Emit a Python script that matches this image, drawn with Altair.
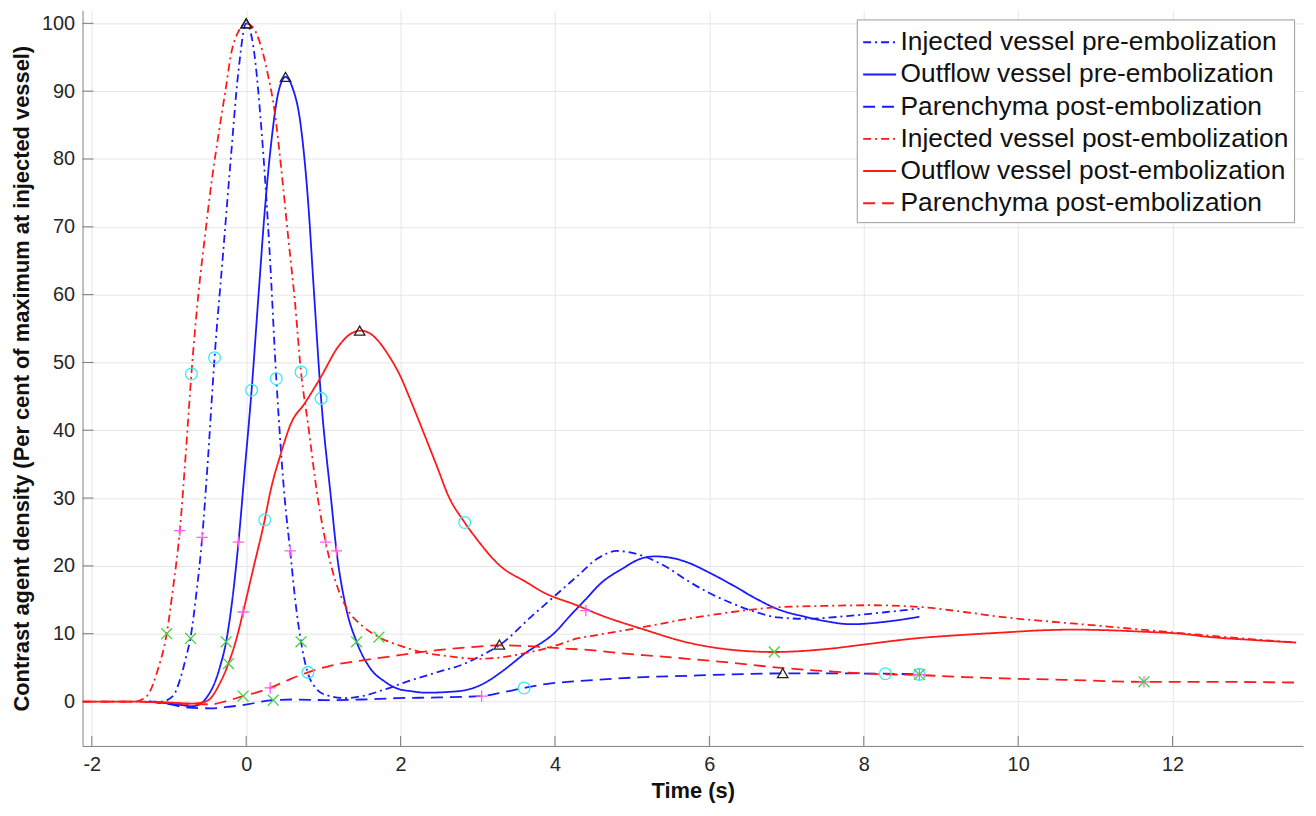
import altair as alt
import pandas as pd

# ---------------- data ----------------
keys = ["inj_pre", "out_pre", "par_pre", "inj_post", "out_post", "par_post"]
labels = ["Injected vessel pre-embolization", "Outflow vessel pre-embolization",
          "Parenchyma post-embolization", "Injected vessel post-embolization",
          "Outflow vessel post-embolization", "Parenchyma post-embolization"]
colors = ["#1a1aff", "#1a1aff", "#1a1aff", "#ff1a1a", "#ff1a1a", "#ff1a1a"]
dashes = [[8, 4, 2, 4], [1, 0], [12, 7], [8, 4, 2, 4], [1, 0], [12, 7]]

inj_pre_t = [-1.26, -1.1, -0.95, -0.85, -0.78, -0.72, -0.65, -0.57, -0.5, -0.41, -0.3, -0.2, -0.1, 0.0,
             0.1, 0.2, 0.3, 0.39, 0.5, 0.57, 0.64, 0.71, 0.79, 0.9, 1.05, 1.28, 1.5, 1.8, 2.1, 2.5, 2.79,
             3.05, 3.28, 3.71, 4.0, 4.29, 4.54, 4.8, 5.13, 5.45, 5.72, 6.0, 6.31, 6.6, 6.89, 7.25, 7.78, 8.3, 8.72]
inj_pre_v = [0.0, 0.0, 0.8, 3.5, 6.5, 9.5, 15.5, 24.2, 35.0, 50.7, 66.0, 80.0, 93.0, 100.0,
             96.0, 84.0, 67.0, 47.6, 29.8, 22.2, 14.5, 8.8, 4.5, 2.0, 0.9, 0.5, 0.8, 1.8, 3.0, 4.4, 5.4,
             6.8, 8.3, 12.7, 15.6, 18.5, 21.0, 22.2, 21.5, 19.8, 17.8, 16.0, 14.4, 13.2, 12.4, 12.2, 12.6, 13.2, 13.7]

out_pre_t = [-1.26, -1.0, -0.85, -0.71, -0.6, -0.5, -0.4, -0.33, -0.26, -0.18, -0.1, -0.02, 0.07, 0.16,
             0.24, 0.33, 0.42, 0.51, 0.6, 0.7, 0.8, 0.88, 0.97, 1.1, 1.17, 1.29, 1.43, 1.6, 1.8, 1.96,
             2.15, 2.33, 2.6, 2.85, 3.1, 3.31, 3.6, 4.0, 4.2, 4.4, 4.6, 4.86, 5.15, 5.3, 5.5, 5.72, 6.0,
             6.31, 6.6, 6.89, 7.2, 7.48, 7.84, 8.31, 8.72]
out_pre_v = [0.0, -0.3, -0.5, -0.7, -0.4, 0.8, 3.0, 5.5, 8.8, 15.0, 23.5, 34.0, 45.9, 60.0,
             72.3, 83.0, 90.0, 92.1, 90.5, 85.5, 74.0, 60.0, 44.7, 29.8, 22.2, 14.0, 8.8, 5.0, 2.9, 1.9,
             1.5, 1.3, 1.4, 1.7, 2.8, 4.4, 7.0, 10.2, 12.7, 15.1, 17.5, 19.5, 21.2, 21.4, 21.2, 20.5, 19.0,
             17.1, 15.2, 13.6, 12.6, 11.9, 11.4, 11.8, 12.5]

par_pre_t = [-1.26, -1.0, -0.75, -0.45, -0.25, 0.03, 0.2, 0.35, 0.6, 1.1, 1.5, 1.96, 2.5, 3.05, 3.3,
             3.6, 3.9, 4.29, 4.54, 5.15, 5.72, 6.3, 6.95, 7.5, 8.28, 8.72]
par_pre_v = [0.0, -0.4, -0.9, -1.0, -0.8, -0.4, 0.0, 0.2, 0.3, 0.2, 0.3, 0.5, 0.6, 0.8, 1.3,
             2.0, 2.6, 3.0, 3.2, 3.6, 3.8, 4.0, 4.15, 4.15, 4.1, 4.0]

inj_post_t = [-2.12, -1.6, -1.43, -1.35, -1.26, -1.15, -1.03, -0.95, -0.86, -0.78, -0.71, -0.62, -0.53,
              -0.45, -0.36, -0.27, -0.19, -0.1, 0.0, 0.1, 0.19, 0.28, 0.37, 0.45, 0.54, 0.63, 0.71, 0.8,
              0.93, 1.03, 1.15, 1.29, 1.5, 1.72, 2.0, 2.27, 2.6, 3.02, 3.3, 3.6, 4.0, 4.29, 4.54, 5.15,
              5.72, 6.3, 6.89, 7.5, 8.07, 8.78, 9.3, 9.84, 10.4, 11.02, 11.6, 12.19, 12.9, 13.6]
inj_post_v = [0.0, 0.0, 0.0, 0.3, 1.2, 4.5, 10.0, 16.5, 25.2, 37.0, 48.3, 60.0, 69.0,
              76.5, 83.5, 90.0, 95.8, 98.8, 100.0, 99.2, 96.7, 92.5, 86.9, 79.0, 68.9, 59.1, 48.6, 41.0,
              29.8, 23.5, 18.0, 14.0, 11.2, 9.5, 8.2, 7.3, 6.7, 6.3, 6.5, 7.1, 8.2, 9.3, 9.8, 11.0,
              12.2, 13.2, 13.9, 14.1, 14.2, 13.9, 13.2, 12.4, 11.8, 11.2, 10.6, 10.0, 9.3, 8.7]

out_post_t = [-2.12, -1.5, -1.0, -0.7, -0.55, -0.46, -0.35, -0.23, -0.12, -0.04, 0.1, 0.24, 0.31, 0.45,
              0.58, 0.76, 0.97, 1.19, 1.35, 1.48, 1.6, 1.7, 1.83, 2.0, 2.13, 2.3, 2.47, 2.62, 2.83, 2.99,
              3.29, 3.63, 3.85, 4.28, 4.6, 5.13, 5.72, 6.31, 6.84, 7.48, 8.07, 8.66, 9.25, 9.84, 10.3,
              10.72, 11.2, 11.6, 12.1, 12.49, 13.0, 13.6]
out_post_v = [0.0, 0.0, -0.15, -0.3, -0.1, 0.5, 2.5, 5.6, 9.5, 13.2, 20.0, 26.8, 30.8, 36.6,
              41.0, 44.0, 47.9, 52.3, 54.2, 54.7, 54.3, 53.3, 51.3, 47.9, 44.4, 39.6, 34.7, 30.3, 26.4, 23.9,
              20.0, 17.6, 16.1, 14.2, 12.7, 10.7, 8.7, 7.6, 7.3, 7.7, 8.5, 9.3, 9.8, 10.2, 10.5,
              10.6, 10.5, 10.3, 10.0, 9.5, 9.1, 8.7]

par_post_t = [-2.12, -1.5, -1.0, -0.7, -0.45, -0.25, -0.04, 0.15, 0.31, 0.55, 0.8, 1.1, 1.53, 1.96, 2.5,
              3.0, 3.28, 3.6, 4.0, 4.54, 4.86, 5.3, 5.72, 6.3, 6.89, 7.5, 8.07, 8.72, 9.3, 9.84, 10.6,
              11.63, 12.5, 13.6]
par_post_v = [0.0, 0.0, -0.2, -0.4, -0.4, 0.1, 0.8, 1.4, 2.0, 3.2, 4.3, 5.3, 6.1, 6.8, 7.6,
              8.1, 8.3, 8.2, 7.9, 7.5, 7.1, 6.7, 6.3, 5.7, 5.0, 4.5, 4.1, 3.9, 3.6, 3.4, 3.2,
              2.9, 2.9, 2.8]

# characteristic-point markers: time, value, kind
mark_t = [-1.03, -0.86, -0.71, 0.0, 0.71, 1.03, 1.72,
          -0.72, -0.57, -0.41, 0.0, 0.39, 0.57, 0.71,
          -0.26, -0.10, 0.07, 0.51, 0.97, 1.17, 1.43,
          -0.23, -0.04, 0.24, 1.47, 2.83, 4.40, 6.84,
          -0.04, 0.31, 0.80, 3.28, 8.28, 11.63, 11.63,
          0.35, 3.05, 3.60, 6.95, 8.72, 8.72, 8.72]
mark_v = [10.0, 25.2, 48.3, 100.0, 48.6, 23.5, 9.5,
          9.3, 24.2, 50.7, 100.0, 47.6, 22.2, 8.8,
          8.8, 23.5, 45.9, 92.1, 44.7, 22.2, 8.8,
          5.6, 13.2, 26.8, 54.7, 26.4, 13.4, 7.3,
          0.8, 2.0, 4.3, 8.4, 4.1, 2.9, 2.9,
          0.2, 0.8, 2.0, 4.2, 4.0, 4.0, 4.0]
mark_kind = ["x", "plus", "circle", "tri", "circle", "plus", "x",
             "x", "plus", "circle", "tri", "circle", "plus", "x",
             "x", "plus", "circle", "tri", "circle", "plus", "x",
             "x", "plus", "circle", "tri", "circle", "plus", "x",
             "x", "plus", "circle", "tri", "circle", "plus", "x",
             "x", "plus", "circle", "tri", "circle", "plus", "x"]

x_ticks = [-2, 0, 2, 4, 6, 8, 10, 12]
y_ticks = [0, 10, 20, 30, 40, 50, 60, 70, 80, 90, 100]
x_domain = [-2.12, 13.69]
y_domain = [-6.55, 101.9]

# ---------------- tables ----------------
series_t = [inj_pre_t, out_pre_t, par_pre_t, inj_post_t, out_post_t, par_post_t]
series_v = [inj_pre_v, out_pre_v, par_pre_v, inj_post_v, out_post_v, par_post_v]
rows = []
for k, ts, vs in zip(keys, series_t, series_v):
    for t, v in zip(ts, vs):
        rows.append({"series": k, "t": t, "v": v})
lines_df = pd.DataFrame(rows)
marks_df = pd.DataFrame({"t": mark_t, "v": mark_v, "kind": mark_kind})

# inward axis ticks (length expressed as a fraction of each axis span)
x_tick_len = (y_domain[1] - y_domain[0]) * 0.0135
y_tick_len = (x_domain[1] - x_domain[0]) * 0.009
xt_df = pd.DataFrame({"t": x_ticks, "v": [y_domain[0]] * len(x_ticks),
                      "v2": [y_domain[0] + x_tick_len] * len(x_ticks)})
yt_df = pd.DataFrame({"t": [x_domain[0]] * len(y_ticks), "t2": [x_domain[0] + y_tick_len] * len(y_ticks),
                      "v": y_ticks})

FONT = "Liberation Sans"
xscale = alt.Scale(domain=x_domain, nice=False, zero=False)
yscale = alt.Scale(domain=y_domain, nice=False, zero=False)

label_expr = " : ".join(
    [f"datum.label == '{k}' ? '{l}'" for k, l in zip(keys, labels)]) + " : datum.label"
legend = alt.Legend(title=None, orient="none", legendX=779, legendY=9, labelExpr=label_expr,
                    symbolType="stroke", symbolSize=1100, symbolStrokeWidth=2,
                    labelFont=FONT, labelFontSize=26.5, labelColor="#111111", labelOffset=3,
                    padding=5, rowPadding=0.4, strokeColor="#9a9a9a", fillColor="white",
                    labelLimit=600)

x_enc = alt.X("t:Q", scale=xscale,
              axis=alt.Axis(values=x_ticks, title="Time (s)", labelExpr="datum.value",
                            ticks=False, labelPadding=9, titlePadding=6))
y_enc = alt.Y("v:Q", scale=yscale,
              axis=alt.Axis(values=y_ticks, title="Contrast agent density (Per cent of maximum at injected vessel)",
                            labelExpr="datum.value", ticks=False, labelPadding=8, titlePadding=8))

lines = alt.Chart(lines_df).mark_line(strokeWidth=1.8, clip=True, interpolate="monotone").encode(
    x=x_enc, y=y_enc,
    color=alt.Color("series:N", scale=alt.Scale(domain=keys, range=colors), legend=legend),
    strokeDash=alt.StrokeDash("series:N", scale=alt.Scale(domain=keys, range=dashes), legend=legend),
    detail="series:N",
)

kinds = ["circle", "plus", "x", "tri"]
shape_paths = ["circle", "M-1,0H1M0,-1V1", "M-1,-1L1,1M-1,1L1,-1", "triangle-up"]
markers = alt.Chart(marks_df).mark_point(filled=False, strokeWidth=1.3, clip=True, opacity=1).encode(
    x=alt.X("t:Q", scale=xscale),
    y=alt.Y("v:Q", scale=yscale),
    shape=alt.Shape("kind:N", scale=alt.Scale(domain=kinds, range=shape_paths), legend=None),
    stroke=alt.Stroke("kind:N", scale=alt.Scale(domain=kinds,
                                                range=["#3ee8f0", "#ff5cf0", "#3cd43c", "#222222"]), legend=None),
    size=alt.Size("kind:N", scale=alt.Scale(domain=kinds, range=[140, 110, 70, 170]), legend=None),
)

xticks_marks = alt.Chart(xt_df).mark_rule(strokeWidth=1, color="#7a7a7a").encode(
    x=alt.X("t:Q", scale=xscale), y=alt.Y("v:Q", scale=yscale), y2="v2:Q")
yticks_marks = alt.Chart(yt_df).mark_rule(strokeWidth=1, color="#7a7a7a").encode(
    x=alt.X("t:Q", scale=xscale), x2="t2:Q", y=alt.Y("v:Q", scale=yscale))

chart = alt.layer(xticks_marks, yticks_marks, lines, markers).properties(
    width=1228, height=740,
    autosize=alt.AutoSizeParams(type="none"),
    padding={"left": 75, "top": 0, "right": 5, "bottom": 68},
    background="white",
).configure_view(stroke=None).configure_axis(
    grid=True, gridColor="#e6e6e6", gridWidth=1, domainColor="#808080", domainWidth=1,
    labelFont=FONT, labelFontSize=20, labelColor="#262626",
    titleFont=FONT, titleFontSize=22, titleFontWeight="bold", titleColor="#111111",
)

chart.save("out.html", embed_options={"renderer": "svg", "actions": False})
